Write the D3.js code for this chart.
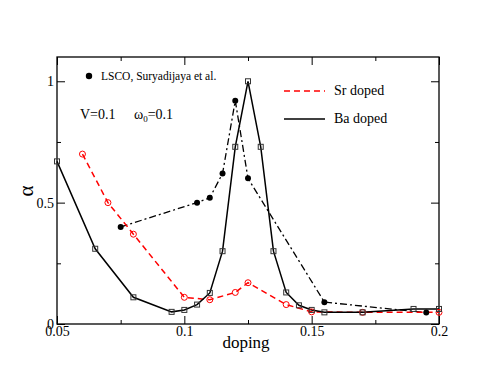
<!DOCTYPE html>
<html>
<head>
<meta charset="utf-8">
<script src="https://cdn.jsdelivr.net/npm/d3@7"></script>
<style>
body { margin: 0; background: #fff; }
text { font-family: "Liberation Serif", "Times New Roman", serif; }
</style>
</head>
<body>
<div id="chart"></div>
<script>
//series data
const baDoping = [0.05, 0.065, 0.08, 0.095, 0.1, 0.105, 0.11, 0.115, 0.12, 0.125, 0.13, 0.135, 0.14, 0.145, 0.15, 0.155, 0.17, 0.19, 0.2];
const baAlpha = [0.67, 0.31, 0.11, 0.05, 0.058, 0.08, 0.128, 0.30, 0.73, 1.0, 0.73, 0.30, 0.13, 0.077, 0.058, 0.048, 0.048, 0.062, 0.062];
const srDoping = [0.06, 0.07, 0.08, 0.1, 0.11, 0.12, 0.125, 0.14, 0.15, 0.17, 0.2];
const srAlpha = [0.70, 0.50, 0.37, 0.11, 0.10, 0.13, 0.17, 0.08, 0.05, 0.048, 0.048];
const lscoDoping = [0.075, 0.105, 0.11, 0.115, 0.12, 0.125, 0.155, 0.195];
const lscoAlpha = [0.40, 0.50, 0.52, 0.62, 0.92, 0.60, 0.09, 0.047];

//ticks
const xTicks = [0.05, 0.1, 0.15, 0.2];
const xMinor = [0.075, 0.125, 0.175];
const yTicks = [0, 0.5, 1];
const yMinor = [0.25, 0.75];

const width = 494, height = 382;
const margin = {top: 57, right: 55, bottom: 58, left: 57};
const w = width - margin.left - margin.right;
const h = height - margin.top - margin.bottom;

const svg = d3.select("#chart").append("svg")
    .attr("width", width)
    .attr("height", height);

const g = svg.append("g")
    .attr("transform", "translate(" + margin.left + "," + margin.top + ")");

const x = d3.scaleLinear().domain([0.05, 0.2]).range([0, w]);
const y = d3.scaleLinear().domain([0, 1.1]).range([h, 0]);

//zip x and y arrays into points
function zip(xs, ys) {
    return xs.map(function(d, i) { return [d, ys[i]]; });
}
const ba = zip(baDoping, baAlpha);
const sr = zip(srDoping, srAlpha);
const lsco = zip(lscoDoping, lscoAlpha);

const fmt = function(d) { return String(+d.toFixed(3)); };

//axes with inward ticks on all four sides
function styleAxis(sel) {
    sel.select(".domain").remove();
    sel.selectAll("line").attr("stroke", "#000");
    sel.selectAll("text")
        .style("font-family", "'Liberation Serif', 'Times New Roman', serif")
        .style("font-size", "14px");
}
g.append("g").attr("transform", "translate(0," + h + ")")
    .call(d3.axisBottom(x).tickValues(xTicks).tickFormat(fmt).tickSizeInner(-8).tickSizeOuter(0).tickPadding(2))
    .call(styleAxis);
g.append("g").attr("transform", "translate(0," + h + ")")
    .call(d3.axisBottom(x).tickValues(xMinor).tickFormat("").tickSizeInner(-4).tickSizeOuter(0))
    .call(styleAxis);
g.append("g")
    .call(d3.axisTop(x).tickValues(xTicks).tickFormat("").tickSizeInner(-8).tickSizeOuter(0))
    .call(styleAxis);
g.append("g")
    .call(d3.axisTop(x).tickValues(xMinor).tickFormat("").tickSizeInner(-4).tickSizeOuter(0))
    .call(styleAxis);
g.append("g")
    .call(d3.axisLeft(y).tickValues(yTicks).tickFormat(fmt).tickSizeInner(-8).tickSizeOuter(0).tickPadding(3))
    .call(styleAxis);
g.append("g")
    .call(d3.axisLeft(y).tickValues(yMinor).tickFormat("").tickSizeInner(-4).tickSizeOuter(0))
    .call(styleAxis);
g.append("g").attr("transform", "translate(" + w + ",0)")
    .call(d3.axisRight(y).tickValues(yTicks).tickFormat("").tickSizeInner(-8).tickSizeOuter(0))
    .call(styleAxis);
g.append("g").attr("transform", "translate(" + w + ",0)")
    .call(d3.axisRight(y).tickValues(yMinor).tickFormat("").tickSizeInner(-4).tickSizeOuter(0))
    .call(styleAxis);

//frame
g.append("rect")
    .attr("width", w).attr("height", h)
    .attr("fill", "none").attr("stroke", "#000").attr("stroke-width", 1.3);

//axis titles
g.append("text")
    .attr("x", w / 2 - 2).attr("y", h + 24)
    .attr("text-anchor", "middle")
    .attr("font-size", 17)
    .text("doping");
svg.append("text")
    .attr("transform", "translate(33,191) rotate(-90)")
    .attr("text-anchor", "middle")
    .attr("font-size", 21)
    .text("α");

const line = d3.line()
    .x(function(d) { return x(d[0]); })
    .y(function(d) { return y(d[1]); });

//LSCO dash-dot line
g.append("path").datum(lsco)
    .attr("d", line)
    .attr("fill", "none").attr("stroke", "#000")
    .attr("stroke-width", 1.3).attr("stroke-dasharray", "7,3,2,3");

//Sr doped red dashed line
g.append("path").datum(sr)
    .attr("d", line)
    .attr("fill", "none").attr("stroke", "#ff0000")
    .attr("stroke-width", 1.5).attr("stroke-dasharray", "6,4");

//Ba doped black solid line
g.append("path").datum(ba)
    .attr("d", line)
    .attr("fill", "none").attr("stroke", "#000")
    .attr("stroke-width", 1.5);

//markers
g.append("g").selectAll("circle")
    .data(sr).enter().append("circle")
    .attr("cx", function(d) { return x(d[0]); })
    .attr("cy", function(d) { return y(d[1]); })
    .attr("r", 3)
    .attr("fill", "none").attr("stroke", "#ff0000").attr("stroke-width", 1);

g.append("g").selectAll("rect")
    .data(ba).enter().append("rect")
    .attr("x", function(d) { return x(d[0]) - 2.5; })
    .attr("y", function(d) { return y(d[1]) - 2.5; })
    .attr("width", 5).attr("height", 5)
    .attr("fill", "none").attr("stroke", "#333").attr("stroke-width", 1);

g.append("g").selectAll("circle")
    .data(lsco).enter().append("circle")
    .attr("cx", function(d) { return x(d[0]); })
    .attr("cy", function(d) { return y(d[1]); })
    .attr("r", 3)
    .attr("fill", "#000");

//legend for LSCO and parameters
svg.append("circle").attr("cx", 89).attr("cy", 76).attr("r", 3.2).attr("fill", "#000");
svg.append("text").attr("x", 101).attr("y", 80).attr("font-size", 11.5)
    .text("LSCO, Suryadijaya et al.");

svg.append("text").attr("x", 80).attr("y", 119).attr("font-size", 14).text("V=0.1");
const param = svg.append("text").attr("x", 134).attr("y", 119).attr("font-size", 14);
param.append("tspan").text("ω");
param.append("tspan").attr("font-size", 9).attr("dy", 3).text("0");
param.append("tspan").attr("dy", -3).text("=0.1");

//legend for the model series
const legendItems = [
    {label: "Sr doped", color: "#ff0000", dash: "6,4", y: 91},
    {label: "Ba doped", color: "#000", dash: null, y: 119}
];
const legend = svg.append("g").selectAll("g")
    .data(legendItems).enter().append("g");
legend.append("line")
    .attr("x1", 284).attr("x2", 325)
    .attr("y1", function(d) { return d.y; }).attr("y2", function(d) { return d.y; })
    .attr("stroke", function(d) { return d.color; })
    .attr("stroke-width", 1.5)
    .attr("stroke-dasharray", function(d) { return d.dash; });
legend.append("text")
    .attr("x", 334).attr("y", function(d) { return d.y + 4; })
    .attr("font-size", 14)
    .text(function(d) { return d.label; });
</script>
</body>
</html>
